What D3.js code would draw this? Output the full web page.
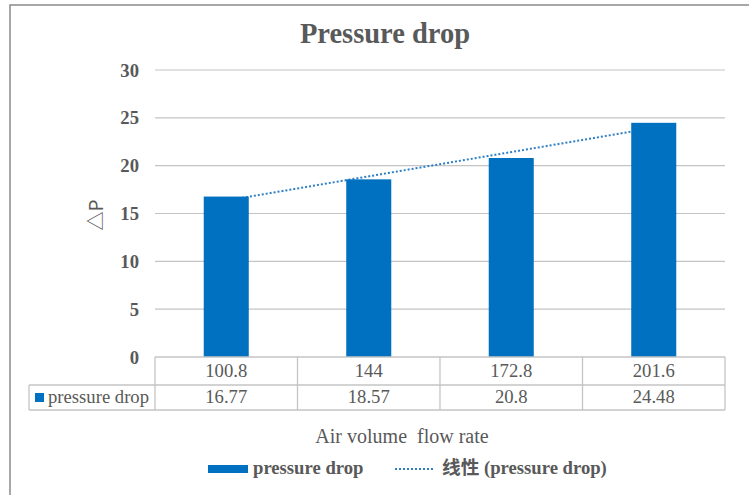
<!DOCTYPE html>
<html>
<head>
<meta charset="utf-8">
<script src="https://cdn.jsdelivr.net/npm/d3@7"></script>
<style>
  html, body { margin: 0; padding: 0; background: #fff; }
  svg { display: block; }
  text { fill: #595959; }
</style>
</head>
<body>
<svg id="chart" width="749" height="495" font-family="'Liberation Serif', 'DejaVu Serif', serif"></svg>
<script>
// Chart data
const categories = ["100.8", "144", "172.8", "201.6"];
const pressureDrop = [16.77, 18.57, 20.8, 24.48];
const yTicks = [0, 5, 10, 15, 20, 25, 30];
const seriesName = "pressure drop";
const trendName = "线性 (pressure drop)";
const chartTitle = "Pressure drop";
const xTitle = "Air volume  flow rate";
const yTitle = "△P";

const svg = d3.select("#chart");
const serif = "'Liberation Serif', 'DejaVu Serif', serif";
const barColor = "#0070c0";
const trendColor = "#2e7fc6";
const gridColor = "#c4c4c4";

const x = d3.scaleBand().domain(categories).range([155, 725]).padding(0);
const y = d3.scaleLinear().domain([0, 30]).range([357, 70]);

// outer frame
svg.append("path")
  .attr("d", "M749,5 H10 V495")
  .attr("fill", "none").attr("stroke", "#8a8a8a").attr("stroke-width", 1.5);

// title
svg.append("text").attr("x", 385).attr("y", 43)
  .attr("font-family", serif)
  .attr("text-anchor", "middle").attr("font-size", 28.5).attr("font-weight", "bold")
  .text(chartTitle);

// gridlines
svg.append("g").selectAll("line").data(yTicks.filter(d => d > 0)).join("line")
  .attr("x1", 155).attr("x2", 725)
  .attr("y1", d => y(d)).attr("y2", d => y(d))
  .attr("stroke", gridColor).attr("stroke-width", 1.2);

// y tick labels
svg.append("g").selectAll("text").data(yTicks).join("text")
  .attr("font-family", serif)
  .attr("x", 139).attr("y", d => y(d)).attr("dy", "0.35em")
  .attr("text-anchor", "end").attr("font-size", 18.67).attr("font-weight", "bold")
  .text(d => d);

// y title
svg.append("text")
  .attr("transform", "translate(103,215) rotate(-90)")
  .attr("text-anchor", "middle").attr("font-size", 19)
  .attr("font-family", "'Noto Sans CJK SC', 'DejaVu Sans', sans-serif")
  .text(yTitle);

// linear trendline (least squares over category index)
const n = pressureDrop.length;
const idx = d3.range(1, n + 1);
const mx = d3.mean(idx), my = d3.mean(pressureDrop);
const slope = d3.sum(idx, (v, i) => (v - mx) * (pressureDrop[i] - my)) / d3.sum(idx, v => (v - mx) ** 2);
const intercept = my - slope * mx;
const cx = c => x(c) + x.bandwidth() / 2;
svg.append("line")
  .attr("x1", cx(categories[0])).attr("y1", y(intercept + slope * 1))
  .attr("x2", cx(categories[n - 1])).attr("y2", y(intercept + slope * n))
  .attr("stroke", trendColor).attr("stroke-width", 2)
  .attr("stroke-dasharray", "2,2");

// bars
const barW = x.bandwidth() * 0.316;
svg.append("g").selectAll("rect").data(pressureDrop).join("rect")
  .attr("x", (d, i) => cx(categories[i]) - barW / 2)
  .attr("y", d => y(d))
  .attr("width", barW)
  .attr("height", d => y(0) - y(d))
  .attr("fill", barColor);

// data table
const tTop = 357, tMid = 385, tBot = 410, keyLeft = 29;
const tbl = svg.append("g").attr("stroke", gridColor).attr("stroke-width", 1.3);
tbl.append("line").attr("x1", 155).attr("x2", 725).attr("y1", tTop).attr("y2", tTop);
tbl.append("line").attr("x1", keyLeft).attr("x2", 725).attr("y1", tMid).attr("y2", tMid);
tbl.append("line").attr("x1", keyLeft).attr("x2", 725).attr("y1", tBot).attr("y2", tBot);
tbl.append("line").attr("x1", keyLeft).attr("x2", keyLeft).attr("y1", tMid).attr("y2", tBot);
tbl.selectAll("line.v").data(categories.map(c => x(c)).concat([725])).join("line")
  .attr("class", "v")
  .attr("x1", d => d).attr("x2", d => d).attr("y1", tTop).attr("y2", tBot);

svg.append("g").selectAll("text").data(categories).join("text")
  .attr("font-family", serif)
  .attr("x", d => cx(d)).attr("y", 377)
  .attr("text-anchor", "middle").attr("font-size", 18.67)
  .text(d => d);
svg.append("g").selectAll("text").data(pressureDrop).join("text")
  .attr("font-family", serif)
  .attr("x", (d, i) => cx(categories[i])).attr("y", 403)
  .attr("text-anchor", "middle").attr("font-size", 18.67)
  .text(d => d);
svg.append("rect").attr("x", 35).attr("y", 393).attr("width", 9).attr("height", 9).attr("fill", barColor);
svg.append("text").attr("x", 48).attr("y", 403).attr("font-size", 18.67)
  .attr("font-family", serif)
  .text(seriesName);

// x title
svg.append("text").attr("x", 402).attr("y", 443)
  .attr("font-family", serif)
  .attr("text-anchor", "middle").attr("font-size", 20)
  .style("white-space", "pre")
  .text(xTitle);

// legend
svg.append("rect").attr("x", 208).attr("y", 465).attr("width", 40).attr("height", 8).attr("fill", barColor);
svg.append("text").attr("x", 253).attr("y", 474).attr("font-size", 18.67).attr("font-weight", "bold")
  .attr("font-family", serif)
  .text(seriesName);
svg.append("line").attr("x1", 395).attr("x2", 434).attr("y1", 469).attr("y2", 469)
  .attr("stroke", trendColor).attr("stroke-width", 2).attr("stroke-dasharray", "2,2");
svg.append("text").attr("x", 442).attr("y", 474).attr("font-size", 18.67).attr("font-weight", "bold")
  .attr("font-family", "'Liberation Serif', 'Noto Sans CJK SC', serif")
  .text(trendName);
</script>
</body>
</html>
